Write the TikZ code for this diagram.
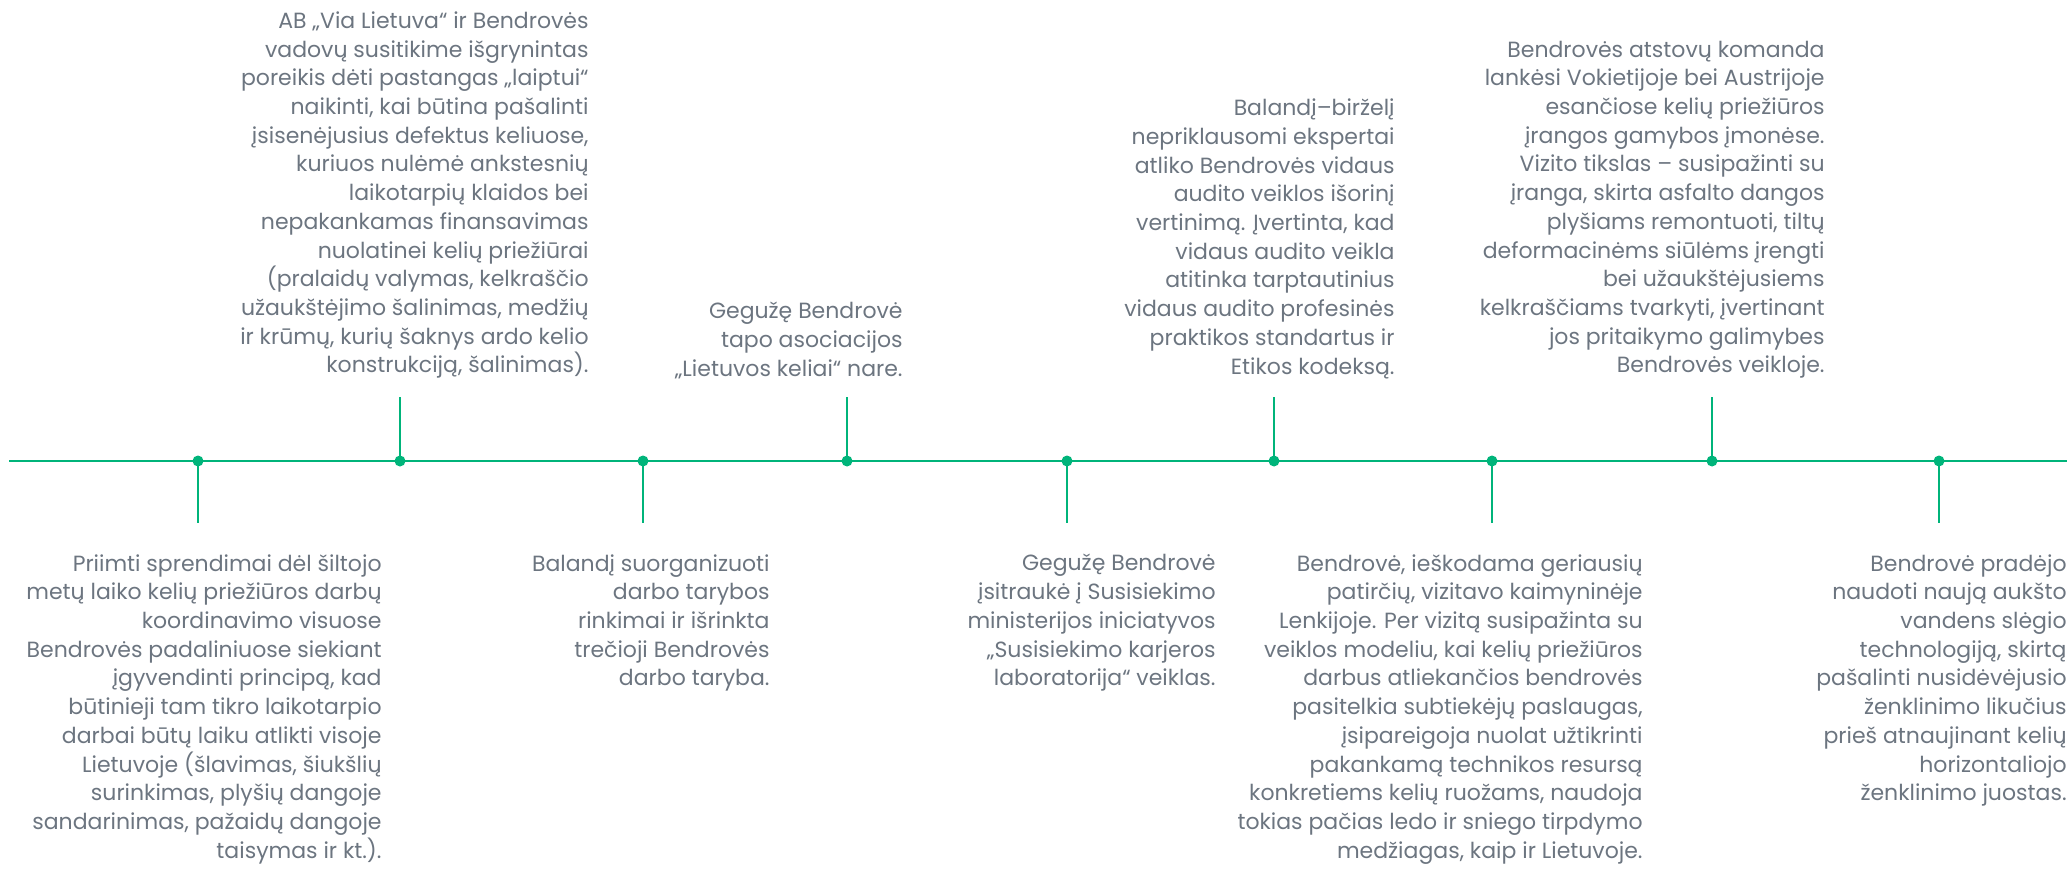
\documentclass[tikz,border=0pt]{standalone}
\usepackage{fontspec}
\setmainfont{Poppins}
\usepackage{tikz}
\usetikzlibrary{shapes,arrows,positioning}
\definecolor{tlgreen}{RGB}{0,180,122}
\definecolor{tlgray}{RGB}{108,117,128}
\tikzstyle{gnode} = [circle, fill=tlgreen, inner sep=0pt, minimum size=5.5pt]
\tikzstyle{line} = [draw=tlgreen, line width=1.4pt]
\tikzstyle{ttext} = [anchor=south east, align=right, inner sep=0pt, text=tlgray, font=\fontsize{11}{14.35}\selectfont]
\tikzstyle{btext} = [anchor=north east, align=right, inner sep=0pt, text=tlgray, font=\fontsize{11}{14.35}\selectfont]

\begin{document}
\begin{tikzpicture}[x=0.5pt, y=0.5pt]
	\useasboundingbox (0,-407) rectangle (2071,461);

	% time axis
	\coordinate (start) at (9,0);
	\coordinate (end) at (2067,0);
	\path [line] (start) -- (end);

	% events on the axis
	\node [gnode] (d1) at (198,0) {};
	\node [gnode] (d2) at (400,0) {};
	\node [gnode] (d3) at (643,0) {};
	\node [gnode] (d4) at (847,0) {};
	\node [gnode] (d5) at (1067,0) {};
	\node [gnode] (d6) at (1274,0) {};
	\node [gnode] (d7) at (1492,0) {};
	\node [gnode] (d8) at (1712,0) {};
	\node [gnode] (d9) at (1939,0) {};

	\coordinate (e1) at (198,-62);
	\coordinate (e2) at (400,64);
	\coordinate (e3) at (643,-62);
	\coordinate (e4) at (847,64);
	\coordinate (e5) at (1067,-62);
	\coordinate (e6) at (1274,64);
	\coordinate (e7) at (1492,-62);
	\coordinate (e8) at (1712,64);
	\coordinate (e9) at (1939,-62);

	\path [line] (d1.center) -- (e1);
	\path [line] (d2.center) -- (e2);
	\path [line] (d3.center) -- (e3);
	\path [line] (d4.center) -- (e4);
	\path [line] (d5.center) -- (e5);
	\path [line] (d6.center) -- (e6);
	\path [line] (d7.center) -- (e7);
	\path [line] (d8.center) -- (e8);
	\path [line] (d9.center) -- (e9);

	% texts below
	\node [btext] (t1) at (382,-93) {Priimti sprendimai dėl šiltojo\\metų laiko kelių priežiūros darbų\\koordinavimo visuose\\Bendrovės padaliniuose siekiant\\įgyvendinti principą, kad\\būtinieji tam tikro laikotarpio\\darbai būtų laiku atlikti visoje\\Lietuvoje (šlavimas, šiukšlių\\surinkimas, plyšių dangoje\\sandarinimas, pažaidų dangoje\\taisymas ir kt.).};
	\node [btext] (t3) at (770,-93) {Balandį suorganizuoti\\darbo tarybos\\rinkimai ir išrinkta\\trečioji Bendrovės\\darbo taryba.};
	\node [btext] (t5) at (1216,-93) {Gegužę Bendrovė\\įsitraukė į Susisiekimo\\ministerijos iniciatyvos\\„Susisiekimo karjeros\\laboratorija“ veiklas.};
	\node [btext] (t7) at (1643,-93) {Bendrovė, ieškodama geriausių\\patirčių, vizitavo kaimyninėje\\Lenkijoje. Per vizitą susipažinta su\\veiklos modeliu, kai kelių priežiūros\\darbus atliekančios bendrovės\\pasitelkia subtiekėjų paslaugas,\\įsipareigoja nuolat užtikrinti\\pakankamą technikos resursą\\konkretiems kelių ruožams, naudoja\\tokias pačias ledo ir sniego tirpdymo\\medžiagas, kaip ir Lietuvoje.};
	\node [btext] (t9) at (2067,-93) {Bendrovė pradėjo\\naudoti naują aukšto\\vandens slėgio\\technologiją, skirtą\\pašalinti nusidėvėjusio\\ženklinimo likučius\\prieš atnaujinant kelių\\horizontaliojo\\ženklinimo juostas.};

	% texts above
	\node [ttext] (t2) at (589,82) {AB „Via Lietuva“ ir Bendrovės\\vadovų susitikime išgrynintas\\poreikis dėti pastangas „laiptui“\\naikinti, kai būtina pašalinti\\įsisenėjusius defektus keliuose,\\kuriuos nulėmė ankstesnių\\laikotarpių klaidos bei\\nepakankamas finansavimas\\nuolatinei kelių priežiūrai\\(pralaidų valymas, kelkraščio\\užaukštėjimo šalinimas, medžių\\ir krūmų, kurių šaknys ardo kelio\\konstrukciją, šalinimas).};
	\node [ttext] (t4) at (903,82) {Gegužę Bendrovė\\tapo asociacijos\\„Lietuvos keliai“ nare.};
	\node [ttext] (t6) at (1395,82) {Balandį–birželį\\nepriklausomi ekspertai\\atliko Bendrovės vidaus\\audito veiklos išorinį\\vertinimą. Įvertinta, kad\\vidaus audito veikla\\atitinka tarptautinius\\vidaus audito profesinės\\praktikos standartus ir\\Etikos kodeksą.};
	\node [ttext] (t8) at (1825,82) {Bendrovės atstovų komanda\\lankėsi Vokietijoje bei Austrijoje\\esančiose kelių priežiūros\\įrangos gamybos įmonėse.\\Vizito tikslas – susipažinti su\\įranga, skirta asfalto dangos\\plyšiams remontuoti, tiltų\\deformacinėms siūlėms įrengti\\bei užaukštėjusiems\\kelkraščiams tvarkyti, įvertinant\\jos pritaikymo galimybes\\Bendrovės veikloje.};
\end{tikzpicture}
\end{document}
